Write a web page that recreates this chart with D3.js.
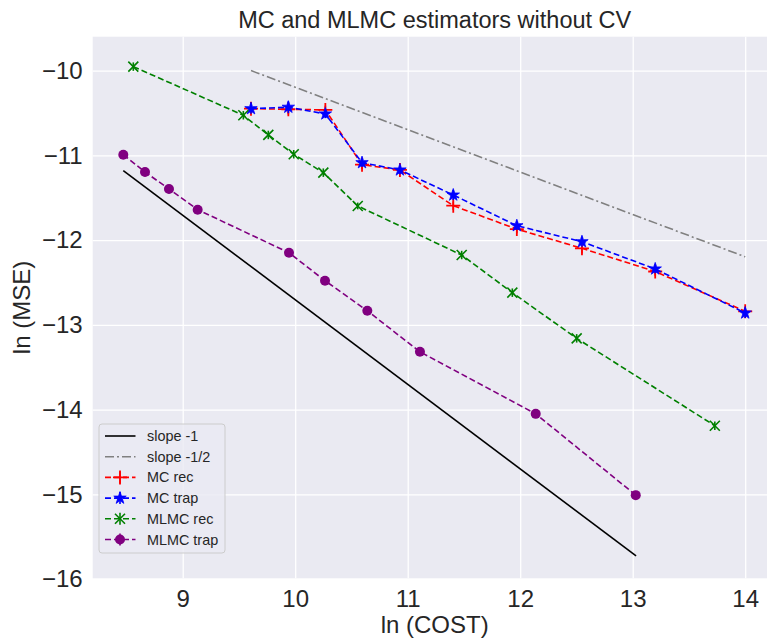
<!DOCTYPE html>
<html>
<head>
<meta charset="utf-8">
<script src="https://cdn.jsdelivr.net/npm/d3@7"></script>
<style>
  body { margin: 0; background: #fff; }
  text { font-family: "Liberation Sans", Arial, sans-serif; fill: #262626; }
</style>
</head>
<body>
<div id="chart"></div>
<script>
// values (ln cost vs ln mse)
var mcCost = [9.607, 9.939, 10.268, 10.594, 10.931, 11.405, 11.97, 12.549, 13.2, 14.0];
var mcRec = [-10.449, -10.456, -10.464, -11.11, -11.172, -11.594, -11.87, -12.097, -12.37, -12.84];
var mcRecErr = [0.05, 0.06, 0.05, 0.05, 0.04, 0.05, 0.05, 0.06, 0.05, 0.05];
var mcTrap = [-10.449, -10.432, -10.511, -11.086, -11.172, -11.468, -11.83, -12.019, -12.34, -12.86];
var mcTrapErr = [0.06, 0.07, 0.05, 0.05, 0.05, 0.06, 0.05, 0.06, 0.05, 0.06];

var mlmcRecCost = [8.561, 9.539, 9.761, 9.987, 10.25, 10.556, 11.48, 11.93, 12.502, 13.73];
var mlmcRec = [-9.953, -10.527, -10.759, -10.987, -11.204, -11.597, -12.176, -12.62, -13.159, -14.19];
var mlmcRecErr = [0.05, 0.05, 0.05, 0.05, 0.05, 0.04, 0.05, 0.05, 0.05, 0.05];

var mlmcTrapCost = [8.472, 8.665, 8.878, 9.133, 9.945, 10.265, 10.641, 11.109, 12.138, 13.027];
var mlmcTrap = [-10.992, -11.196, -11.397, -11.641, -12.149, -12.479, -12.834, -13.318, -14.05, -15.009];
var mlmcTrapErr = [0.05, 0.05, 0.05, 0.05, 0.05, 0.05, 0.05, 0.05, 0.05, 0.05];

var slope1X = [8.472, 13.03];
var slope1Y = [-11.18, -15.726];
var slopeHalfX = [9.607, 14.0];
var slopeHalfY = [-10.0, -12.197];

var xTicks = [9, 10, 11, 12, 13, 14];
var yTicks = [-10, -11, -12, -13, -14, -15, -16];

var W = 767, H = 639;
var plot = {left: 92.7, top: 36.7, right: 776.7, bottom: 578.3};

var svg = d3.select("#chart").append("svg")
  .attr("width", W)
  .attr("height", H);

var x = d3.scaleLinear().domain([8.2, 14.28]).range([plot.left, plot.right]);
var y = d3.scaleLinear().domain([-15.99, -9.6]).range([plot.bottom, plot.top]);

// background
svg.append("rect")
  .attr("x", plot.left).attr("y", plot.top)
  .attr("width", plot.right - plot.left).attr("height", plot.bottom - plot.top)
  .attr("fill", "#eaeaf2");

// grid + tick labels through d3 axes
var xAxis = svg.append("g")
  .attr("transform", "translate(0," + plot.bottom + ")")
  .call(d3.axisBottom(x).tickValues(xTicks).tickSize(-(plot.bottom - plot.top)).tickPadding(12).tickFormat(d3.format("d")));
var yAxis = svg.append("g")
  .attr("transform", "translate(" + plot.left + ",0)")
  .call(d3.axisLeft(y).tickValues(yTicks).tickSize(-(plot.right - plot.left)).tickPadding(10)
    .tickFormat(function(d){ return "\u2212" + Math.abs(d); }));

[xAxis, yAxis].forEach(function(a){
  a.select(".domain").remove();
  a.selectAll(".tick line").attr("stroke", "#fff").attr("stroke-width", 1.3);
  a.selectAll(".tick text").attr("font-size", 24).attr("fill", "#262626")
    .style("font-family", "'Liberation Sans', Arial, sans-serif");
});

var line = d3.line().x(function(d){ return x(d[0]); }).y(function(d){ return y(d[1]); });

function pairs(xs, ys){ return xs.map(function(v, i){ return [v, ys[i]]; }); }

var g = svg.append("g");

g.append("path").datum(pairs(slope1X, slope1Y))
  .attr("d", line).attr("fill", "none").attr("stroke", "#000").attr("stroke-width", 1.6);
g.append("path").datum(pairs(slopeHalfX, slopeHalfY))
  .attr("d", line).attr("fill", "none").attr("stroke", "#808080").attr("stroke-width", 1.6)
  .attr("stroke-dasharray", "9,3,2,3");

function drawMarker(sel, kind, color, cx, cy){
  if(kind == "plus"){
    sel.append("path")
      .attr("d", "M" + (cx - 7) + "," + cy + "H" + (cx + 7) + "M" + cx + "," + (cy - 7) + "V" + (cy + 7))
      .attr("stroke", color).attr("stroke-width", 1.8).attr("fill", "none");
  }
  else if(kind == "star"){
    sel.append("path")
      .attr("transform", "translate(" + cx + "," + cy + ")")
      .attr("d", d3.symbol().type(d3.symbolStar).size(48)())
      .attr("fill", color).attr("stroke", color).attr("stroke-width", 0.8);
  }
  else if(kind == "x"){
    sel.append("path")
      .attr("d", "M" + (cx - 5) + "," + (cy - 5) + "L" + (cx + 5) + "," + (cy + 5) +
        "M" + (cx - 5) + "," + (cy + 5) + "L" + (cx + 5) + "," + (cy - 5))
      .attr("stroke", color).attr("stroke-width", 1.6).attr("fill", "none");
  }
  else if(kind == "circle"){
    sel.append("circle").attr("cx", cx).attr("cy", cy).attr("r", 5).attr("fill", color);
  }
}

function drawSeries(xs, ys, errs, color, kind){
  var s = g.append("g");
  s.append("path").datum(pairs(xs, ys))
    .attr("d", line).attr("fill", "none").attr("stroke", color).attr("stroke-width", 1.6)
    .attr("stroke-dasharray", "6,3");
  xs.forEach(function(v, i){
    s.append("line")
      .attr("x1", x(v)).attr("x2", x(v))
      .attr("y1", y(ys[i] - errs[i])).attr("y2", y(ys[i] + errs[i]))
      .attr("stroke", color).attr("stroke-width", 1.6);
    drawMarker(s, kind, color, x(v), y(ys[i]));
  });
}

drawSeries(mcCost, mcRec, mcRecErr, "#ff0000", "plus");
drawSeries(mcCost, mcTrap, mcTrapErr, "#0000ff", "star");
drawSeries(mlmcRecCost, mlmcRec, mlmcRecErr, "#008000", "x");
drawSeries(mlmcTrapCost, mlmcTrap, mlmcTrapErr, "#800080", "circle");

// legend
var legendItems = [
  {label: "slope -1", color: "#000", dash: null},
  {label: "slope -1/2", color: "#808080", dash: "9,3,2,3"},
  {label: "MC rec", color: "#ff0000", dash: "6,3", kind: "plus"},
  {label: "MC trap", color: "#0000ff", dash: "6,3", kind: "star"},
  {label: "MLMC rec", color: "#008000", dash: "6,3", kind: "x"},
  {label: "MLMC trap", color: "#800080", dash: "6,3", kind: "circle"}
];

var lg = svg.append("g");
lg.append("rect")
  .attr("x", 99).attr("y", 424).attr("width", 126).attr("height", 129).attr("rx", 3)
  .attr("fill", "#eaeaf2").attr("fill-opacity", 0.8).attr("stroke", "#cccccc").attr("stroke-width", 1);

legendItems.forEach(function(it, i){
  var cy = 436 + i * 20.7;
  lg.append("line")
    .attr("x1", 105).attr("x2", 135.5).attr("y1", cy).attr("y2", cy)
    .attr("stroke", it.color).attr("stroke-width", 1.6)
    .attr("stroke-dasharray", it.dash);
  if(it.kind){
    lg.append("line").attr("x1", 120).attr("x2", 120).attr("y1", cy - 6).attr("y2", cy + 6)
      .attr("stroke", it.color).attr("stroke-width", 1.6);
    drawMarker(lg, it.kind, it.color, 120, cy);
  }
  lg.append("text")
    .attr("x", 147).attr("y", cy + 5)
    .attr("font-size", 14.4)
    .text(it.label);
});

// title and axis labels
var cx = (plot.left + plot.right) / 2;
svg.append("text")
  .attr("x", cx).attr("y", 28)
  .attr("text-anchor", "middle").attr("font-size", 23.5)
  .text("MC and MLMC estimators without CV");
svg.append("text")
  .attr("x", cx).attr("y", 633)
  .attr("text-anchor", "middle").attr("font-size", 24)
  .text("ln (COST)");
svg.append("text")
  .attr("transform", "translate(30," + ((plot.top + plot.bottom) / 2) + ") rotate(-90)")
  .attr("text-anchor", "middle").attr("font-size", 24)
  .text("ln (MSE)");
</script>
</body>
</html>
